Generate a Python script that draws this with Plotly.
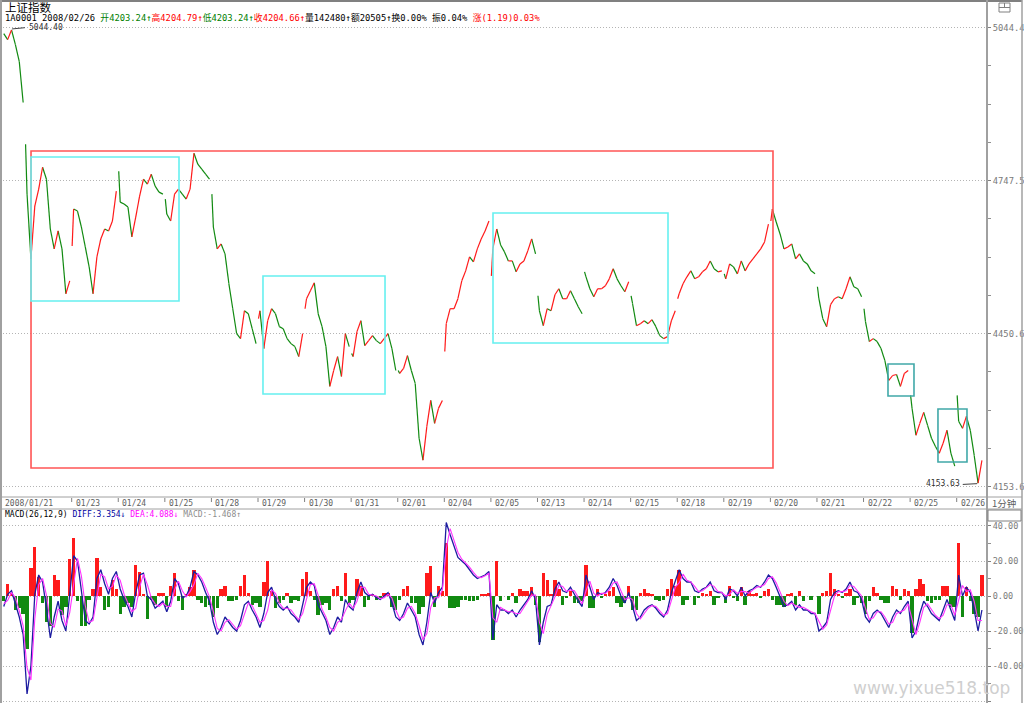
import plotly.graph_objects as go

# ---------------- data ----------------
DAYS = ["01/21", "01/22", "01/23", "01/24", "01/25", "01/28", "01/29", "01/30", "01/31",
        "02/01", "02/04", "02/05", "02/13", "02/14", "02/15", "02/18", "02/19", "02/20",
        "02/21", "02/22", "02/25", "02/26"]
SLOTS = 12  # sampled closes per trading day (every 20 minutes)

DAY_OPEN = [None, 4818.1, 4620.9, 4765.9, 4711.8, 4721.4, 4479.7, 4499.0, 4412.0, 4379.1,
            4415.9, 4562.8, 4524.1, 4570.6, 4524.1, 4518.4, 4566.7, 4669.2, 4541.6, 4499.0,
            4330.8, 4330.8]

N = None
CLOSE = [
    N, N, N, N, N, N, 5032.8, 5021.2, 5040.0, 5011.5, 4978.6, 4899.3,                          # 01/21
    4721.4, 4595.7, 4698.2, 4731.1, 4773.6, 4750.4, 4653.7, 4615.1, 4649.9, 4615.1, 4528.0, 4553.2,  # 01/22
    4692.4, 4688.5, 4657.6, 4618.9, 4580.2, 4528.0, 4599.6, 4634.4, 4653.7, 4649.9, 4669.2, 4727.2,  # 01/23
    4705.9, 4702.1, 4696.3, 4638.3, 4676.9, 4717.6, 4750.4, 4740.8, 4760.1, 4736.9, 4725.3, 4721.4,  # 01/24
    4682.7, 4669.2, 4721.4, 4731.1, 4721.4, 4711.8, 4731.1, 4800.7, 4779.4, 4769.8, 4760.1, 4750.4,  # 01/25
    4657.6, 4615.1, 4624.7, 4605.4, 4547.4, 4499.0, 4450.7, 4441.0, 4495.1, 4489.3, 4460.3, 4431.3,  # 01/28
    4495.0, 4421.7, 4475.8, 4499.0, 4489.3, 4464.2, 4460.3, 4441.0, 4431.3, 4425.5, 4406.2, 4450.7,  # 01/29
    4518.4, 4533.8, 4549.3, 4489.3, 4464.2, 4425.5, 4348.2, 4379.1, 4406.2, 4367.5, 4450.7, 4425.5,  # 01/30
    4406.2, 4454.5, 4475.8, 4427.5, 4437.1, 4446.8, 4437.1, 4431.3, 4441.0, 4450.7, 4421.7, 4379.1,  # 01/31
    4373.3, 4383.0, 4408.1, 4379.1, 4354.0, 4247.6, 4205.0, 4270.8, 4321.1, 4276.6, 4305.6, 4321.1,  # 02/01
    4470.0, 4499.0, 4499.0, 4518.4, 4553.2, 4572.5, 4599.6, 4589.9, 4615.1, 4634.4, 4649.9, 4669.2,  # 02/04
    4615.1, 4653.7, 4622.8, 4609.3, 4591.8, 4591.8, 4570.6, 4586.0, 4591.8, 4611.2, 4634.4, 4605.4,  # 02/05
    4495.1, 4466.1, 4499.0, 4495.1, 4526.1, 4537.7, 4518.4, 4518.4, 4533.8, 4518.4, 4502.9, 4489.3,  # 02/13
    4560.9, 4537.7, 4522.2, 4537.7, 4537.7, 4543.5, 4557.0, 4576.4, 4557.0, 4543.5, 4531.9, 4551.2,  # 02/14
    4508.7, 4466.1, 4470.0, 4475.8, 4470.0, 4477.7, 4464.2, 4446.8, 4441.0, 4444.9, 4475.8, 4495.1,  # 02/15
    4528.0, 4547.4, 4560.9, 4572.5, 4557.0, 4560.9, 4570.6, 4576.4, 4591.8, 4576.4, 4570.6, 4572.5,  # 02/18
    4557.0, 4586.0, 4580.2, 4566.7, 4591.8, 4572.5, 4586.0, 4595.7, 4605.4, 4615.1, 4628.6, 4663.4,  # 02/19
    4692.4, 4667.3, 4644.1, 4615.1, 4618.9, 4624.7, 4595.7, 4605.4, 4591.8, 4586.0, 4572.5, 4566.7,  # 02/20
    4518.4, 4479.7, 4464.2, 4506.8, 4518.4, 4522.2, 4518.4, 4537.7, 4560.9, 4541.6, 4537.7, 4522.2,  # 02/21
    4473.9, 4435.2, 4441.0, 4435.2, 4421.7, 4398.4, 4359.8, 4369.4, 4371.4, 4348.2, 4373.3, 4379.1,  # 02/22
    4305.6, 4253.4, 4276.6, 4297.9, 4272.7, 4247.6, 4232.1, 4218.6, 4237.9, 4263.1, 4218.6, 4193.4,  # 02/25
    4280.5, 4266.9, 4290.1, 4263.1, 4214.7, 4160.6, 4204.7, N, N, N, N, N,                          # 02/26
]

DIFF = [
    N, N, N, N, N, N, -6, 1, 3, -5, -12, -22,
    -56, -40, 1, 12, 8, -7, -24, -12, -3, -14, -20, 1,
    23, 20, 3, -14, -16, -12, 10, 15, 7, 1, 10, 14,
    4, -2, -6, -12, 2, 12, 13, 0, -2, -7, -5, -3,
    -9, -3, 10, 7, -1, 0, 5, 14, 12, 8, 2, -3,
    -15, -22, -18, -12, -15, -18, -20, -14, -5, -3, -8, -12,
    -18, -10, 2, 5, -2, -6, -8, -6, -10, -12, -15, -5,
    5, 8, 6, -5, -10, -14, -22, -18, -12, -15, -2, -6,
    -8, 2, 8, 2, 0, 1, -1, -2, 0, 2, -4, -12,
    -14, -10, -4, -8, -12, -22, -28, -15, 2, -4, 2, 5,
    42, 35, 28, 22, 20, 18, 15, 12, 10, 11, 12, 14,
    -25, -5, -8, -8, -10, -8, -12, -8, -5, -2, 3, -2,
    -28, -15, -6, -5, 4, 8, 3, 2, 5, 1, -3, -6,
    12, 5, -2, 2, 1, 2, 5, 10, 6, 0, -4, 2,
    -6, -14, -12, -8, -6, -5, -7, -10, -12, -8, 2, 8,
    15, 10, 8, 8, 3, 2, 4, 5, 8, 3, 2, 2,
    -2, 4, 3, 0, 5, 0, 3, 4, 6, 5, 8, 12,
    10, 5, 0, -6, -5, -3, -8, -5, -8, -8, -10, -10,
    -20, -18, -15, -2, 2, 3, 2, 4, 8, 3, 2, -2,
    -12, -15, -10, -8, -10, -14, -18, -12, -8, -10, -6, -3,
    -24, -20, -10, -3, -6, -10, -12, -14, -8, -2, -8, -14,
    12, 0, 5, 2, -8, -20, -8, N, N, N, N, N,
]

MACD_BAR = [
    N, N, N, N, N, N, -3, 7, 2, -8, -7, -10,
    -30, 16, 28, 11, -4, -15, -17, 12, 9, -11, -6, 21,
    33, -3, -17, -17, -2, 4, 22, 5, -8, -6, 9, 4,
    -10, -6, -4, -6, 18, 14, 1, -13, -2, -5, 2, 2,
    -6, 6, 13, -3, -8, 1, 5, 15, -2, -4, -6, -5,
    -12, -7, 4, 6, -3, -3, -2, 6, 12, 2, -5, -4,
    -6, 8, 20, 3, -7, -4, -2, 2, -4, -2, -3, 10,
    14, 3, -2, -11, -5, -4, -8, 4, 6, -3, 13, -4,
    -2, 10, 6, -6, -2, 1, -2, -1, 2, 2, -6, -8,
    -2, 4, 6, -4, -4, -10, -6, 13, 17, -6, 6, 3,
    30, -7, -7, -6, -2, -2, -3, -3, -2, 1, 1, 2,
    -25, 20, -3, 0, -2, 2, -4, 4, 3, 3, 5, -5,
    -26, 13, 9, 1, 9, 4, -5, -1, 3, -4, -4, -3,
    18, -7, -7, 4, -1, 1, 3, 5, -4, -6, -4, 6,
    -8, -8, 2, 4, 2, 1, -2, -3, -2, 4, 10, 6,
    15, -5, -2, 0, -5, -1, 2, 1, 3, -5, -1, 0,
    -4, 6, -1, -3, 5, -5, 3, 1, 2, -1, 3, 4,
    -2, -5, -5, -6, 1, 2, -5, 3, -3, 0, -2, 0,
    -10, 2, 3, 13, 4, 1, -1, 2, 4, -5, -1, -4,
    -10, -3, 5, 2, -2, -4, -4, 6, 4, -2, 4, 3,
    -21, 4, 10, 7, -3, -4, -2, -2, 6, 6, -6, -6,
    30, -12, 5, -3, -10, -12, 12, N, N, N, N, N,
]

PRICE_TICKS = [5044.4, 4747.5, 4450.6, 4153.6]
MACD_TICKS = [40, 20, 0, -20, -40, -60]
HIGH_LABEL = "5044.40"
LOW_LABEL = "4153.63"

# boxes drawn on the chart: (day0, day1, price_low, price_high, colour)
BOXES = [
    (1.127, 17.056, 4189.9, 4805.1, "#ff5555"),
    (1.127, 4.304, 4514.0, 4793.5, "#66f0f0"),
    (6.107, 8.727, 4333.5, 4562.5, "#66f0f0"),
    (11.045, 14.802, 4432.5, 4684.8, "#66f0f0"),
    (19.525, 20.083, 4329.6, 4391.7, "#40a8a8"),
    (20.598, 21.221, 4201.6, 4304.4, "#40a8a8"),
]

# ---------------- geometry ----------------
W, H = 1024, 703
ML, MR = 0, 37
PW = W - ML - MR
PX0, PXD = 25.1, 46.58      # pixel of day-1 start, pixels per day
X0 = 1 + (0 - PX0) / PXD
X1 = 1 + (PW - PX0) / PXD
P_TOP, P_BOT = 5098.16, 4133.6
M_TOP, M_BOT = 49.71, -61.14

def py(pix):
    return 1 - pix / H

def px(pix):
    return (pix - ML) / PW

MONO = "DejaVu Sans Mono, Noto Sans CJK SC"
CJK = "Noto Sans CJK SC, DejaVu Sans"
RED, GREEN = "#ff1a1a", "#118a11"
GRID = "#b4b4b4"
DOT = "1px,2px"

fig = go.Figure()

# ---------------- price segments ----------------
rx, ry, gx, gy = [], [], [], []
for d in range(len(DAYS)):
    pts = []
    if DAY_OPEN[d] is not None:
        pts.append((d + 0.01, DAY_OPEN[d]))
    for i in range(SLOTS):
        c = CLOSE[d * SLOTS + i]
        if c is not None:
            pts.append((d + (i + 0.5) / SLOTS, c))
    for (xa, ya), (xb, yb) in zip(pts[:-1], pts[1:]):
        if yb >= ya:
            rx += [xa, xb, None]; ry += [ya, yb, None]
        else:
            gx += [xa, xb, None]; gy += [ya, yb, None]

fig.add_trace(go.Scatter(x=gx, y=gy, mode="lines", line=dict(color=GREEN, width=1.2),
                         hoverinfo="skip", xaxis="x", yaxis="y"))
fig.add_trace(go.Scatter(x=rx, y=ry, mode="lines", line=dict(color=RED, width=1.2),
                         hoverinfo="skip", xaxis="x", yaxis="y"))

# ---------------- MACD ----------------
mx, mb, md, mdea = [], [], [], []
for k, (df, b) in enumerate(zip(DIFF, MACD_BAR)):
    if df is None:
        continue
    d, i = divmod(k, SLOTS)
    mx.append(d + (i + 0.5) / SLOTS)
    mb.append(b)
    md.append(df)
    mdea.append(df - b / 2.0)

fig.add_trace(go.Bar(x=mx, y=mb, width=0.072, marker=dict(color=[RED if v >= 0 else GREEN for v in mb],
                     line=dict(width=0)), hoverinfo="skip", xaxis="x2", yaxis="y2"))
fig.add_trace(go.Scatter(x=mx, y=md, mode="lines", line=dict(color="#1c1ca0", width=1.3),
                         hoverinfo="skip", xaxis="x2", yaxis="y2"))
fig.add_trace(go.Scatter(x=mx, y=mdea, mode="lines", line=dict(color="#ff33ff", width=1.1),
                         hoverinfo="skip", xaxis="x2", yaxis="y2"))

# ---------------- shapes ----------------
shapes = []
for (a, b, lo, hi, col) in BOXES:
    shapes.append(dict(type="rect", xref="x", yref="y", x0=a, x1=b, y0=lo, y1=hi,
                       line=dict(color=col, width=1.6), fillcolor="rgba(0,0,0,0)"))
# high / low leader lines
shapes.append(dict(type="line", xref="x", yref="y", x0=0.72, x1=0.995, y0=5042.0, y1=5044.4,
                   line=dict(color="#404040", width=1)))
shapes.append(dict(type="line", xref="x", yref="y", x0=21.13, x1=21.44, y0=4158.0, y1=4159.5,
                   line=dict(color="#404040", width=1)))
# frame lines
GRAYL = "#a0a0a0"
shapes += [
    dict(type="line", xref="paper", yref="paper", x0=0, x1=1.0355, y0=py(1), y1=py(1),
         line=dict(color="#808080", width=2)),
    dict(type="line", xref="paper", yref="paper", x0=0, x1=1.0355, y0=py(497), y1=py(497),
         line=dict(color=GRAYL, width=1)),
    dict(type="line", xref="paper", yref="paper", x0=0, x1=1.0355, y0=py(509), y1=py(509),
         line=dict(color=GRAYL, width=1)),
    dict(type="line", xref="paper", yref="paper", x0=px(987), x1=px(987), y0=0, y1=1,
         line=dict(color=GRAYL, width=2)),
    dict(type="line", xref="paper", yref="paper", x0=px(1022), x1=px(1022), y0=0, y1=1,
         line=dict(color=GRAYL, width=1.5)),
    dict(type="line", xref="paper", yref="paper", x0=px(1), x1=px(1), y0=0, y1=1,
         line=dict(color=GRAYL, width=2)),
    # small icon at top right
    dict(type="rect", xref="paper", yref="paper", x0=px(999), x1=px(1010), y0=py(12), y1=py(3),
         line=dict(color="#808080", width=1)),
    dict(type="line", xref="paper", yref="paper", x0=px(999), x1=px(1010), y0=py(7.5), y1=py(7.5),
         line=dict(color="#808080", width=1)),
    dict(type="line", xref="paper", yref="paper", x0=px(1004.5), x1=px(1004.5), y0=py(7.5), y1=py(3),
         line=dict(color="#808080", width=1)),
    # small box under the period label
    dict(type="rect", xref="paper", yref="paper", x0=px(988), x1=px(1021), y0=py(521), y1=py(510),
         line=dict(color="#808080", width=1)),
]
# day tick marks in the date strip
for d in range(2, len(DAYS)):
    xd = PX0 + PXD * (d - 1)
    shapes.append(dict(type="line", xref="paper", yref="paper", x0=px(xd), x1=px(xd),
                       y0=py(498), y1=py(502), line=dict(color="#808080", width=1)))

# ---------------- annotations ----------------
ann = []
ann.append(dict(text="上证指数", x=px(3), y=py(6.5), xref="paper", yref="paper", xanchor="left",
                yanchor="middle", showarrow=False, font=dict(family=CJK, size=11.5, color="#000")))
hdr = ("1A0001 2008/02/26 "
       "<span style='color:#008000'>开4203.24↑</span>"
       "<span style='color:#ff0000'>高4204.79↑</span>"
       "<span style='color:#008000'>低4203.24↑</span>"
       "<span style='color:#ff0000'>收4204.66↑</span>"
       "量142480↑额20505↑换0.00% 振0.04% "
       "<span style='color:#ff0000'>涨(1.19)0.03%</span>")
ann.append(dict(text=hdr, x=px(3), y=py(17.5), xref="paper", yref="paper", xanchor="left",
                yanchor="middle", showarrow=False, font=dict(family=MONO, size=8.8, color="#000")))
mh = ("MACD(26,12,9) "
      "<span style='color:#0000a0'>DIFF:3.354↓</span> "
      "<span style='color:#ff00ff'>DEA:4.088↓</span> "
      "<span style='color:#8c8c8c'>MACD:-1.468↑</span>")
ann.append(dict(text=mh, x=px(3), y=py(514.5), xref="paper", yref="paper", xanchor="left",
                yanchor="middle", showarrow=False, font=dict(family=MONO, size=8, color="#000")))
# date labels
ann.append(dict(text="2008/" + DAYS[0], x=px(3), y=py(503), xref="paper", yref="paper",
                xanchor="left", yanchor="middle", showarrow=False,
                font=dict(family=MONO, size=8, color="#606060")))
for d in range(2, len(DAYS)):
    ann.append(dict(text=DAYS[d], x=d, y=py(503), xref="x", yref="paper", xanchor="left",
                    xshift=2, yanchor="middle", showarrow=False,
                    font=dict(family=MONO, size=8, color="#606060")))
ann.append(dict(text="1分钟", x=px(990), y=py(503), xref="paper", yref="paper", xanchor="left",
                yanchor="middle", showarrow=False, font=dict(family=CJK, size=9.5, color="#606060")))
ann.append(dict(text=HIGH_LABEL, x=1.03, y=5044.4, xref="x", yref="y", xanchor="left",
                yanchor="middle", showarrow=False, font=dict(family=MONO, size=8, color="#303030")))
ann.append(dict(text=LOW_LABEL, x=21.12, y=4159.0, xref="x", yref="y", xanchor="right",
                yanchor="middle", showarrow=False, font=dict(family=MONO, size=8, color="#303030")))
ann.append(dict(text="www.yixue518.top", x=px(1012), y=py(688), xref="paper", yref="paper",
                xanchor="right", yanchor="middle", showarrow=False,
                font=dict(family="DejaVu Sans", size=17, color="#cfcfcf")))

# ---------------- layout ----------------
def minor_between(ticks, parts):
    out = []
    for a, b in zip(ticks[:-1], ticks[1:]):
        for k in range(1, parts):
            out.append(a + (b - a) * k / parts)
    return out

fig.update_layout(
    width=W, height=H, margin=dict(l=ML, r=MR, t=0, b=0),
    paper_bgcolor="white", plot_bgcolor="white", showlegend=False, bargap=0,
    shapes=shapes, annotations=ann,
    xaxis=dict(domain=[0, 1], range=[X0, X1], anchor="y", showticklabels=False, showgrid=False,
               zeroline=False, showline=False, ticks=""),
    xaxis2=dict(domain=[0, 1], range=[X0, X1], anchor="y2", showticklabels=False, showgrid=False,
                zeroline=False, showline=False, ticks="", matches="x"),
    yaxis=dict(domain=[py(497), 1], range=[P_BOT, P_TOP], side="right", anchor="x",
               tickmode="array", tickvals=PRICE_TICKS, ticktext=[f"{v:.1f}" for v in PRICE_TICKS],
               ticks="outside", ticklen=3, tickcolor="#808080", tickwidth=1,
               tickfont=dict(family=MONO, size=8.8, color="#7a7a7a"),
               showgrid=True, gridcolor=GRID, griddash=DOT, gridwidth=1,
               zeroline=False, showline=False,
               minor=dict(tickmode="array", tickvals=minor_between(PRICE_TICKS, 4), ticks="outside",
                          ticklen=3, tickcolor="#909090", showgrid=False)),
    yaxis2=dict(domain=[0, py(509)], range=[M_BOT, M_TOP], side="right", anchor="x2",
                tickmode="array", tickvals=MACD_TICKS, ticktext=[f"{v:.2f}" for v in MACD_TICKS],
                ticks="outside", ticklen=3, tickcolor="#808080", tickwidth=1,
                tickfont=dict(family=MONO, size=8.5, color="#7a7a7a"),
                showgrid=True, gridcolor=GRID, griddash=DOT, gridwidth=1,
                zeroline=False, showline=False,
                minor=dict(tickmode="array", tickvals=minor_between(MACD_TICKS, 2), ticks="outside",
                           ticklen=3, tickcolor="#909090", showgrid=False)),
)

fig.write_html("out.html", config={"displayModeBar": False})
